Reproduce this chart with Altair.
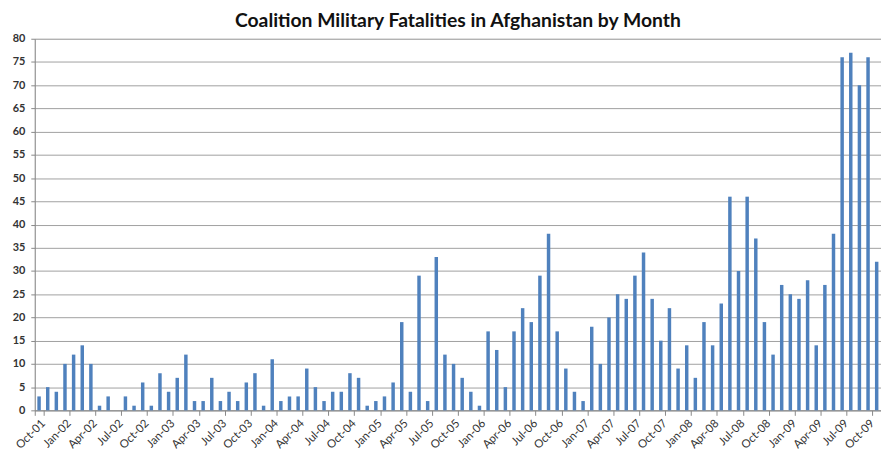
import altair as alt
import pandas as pd

months = list(pd.date_range("2001-10-01", periods=98, freq="MS").strftime("%b-%y"))

fatalities = [
    3, 5, 4, 10, 12, 14, 10, 1, 3, 0, 3, 1,        # Oct-01 .. Sep-02
    6, 1, 8, 4, 7, 12, 2, 2, 7, 2, 4, 2,           # Oct-02 .. Sep-03
    6, 8, 1, 11, 2, 3, 3, 9, 5, 2, 4, 4,           # Oct-03 .. Sep-04
    8, 7, 1, 2, 3, 6, 19, 4, 29, 2, 33, 12,        # Oct-04 .. Sep-05
    10, 7, 4, 1, 17, 13, 5, 17, 22, 19, 29, 38,    # Oct-05 .. Sep-06
    17, 9, 4, 2, 18, 10, 20, 25, 24, 29, 34, 24,   # Oct-06 .. Sep-07
    15, 22, 9, 14, 7, 19, 14, 23, 46, 30, 46, 37,  # Oct-07 .. Sep-08
    19, 12, 27, 25, 24, 28, 14, 27, 38, 76, 77, 70,  # Oct-08 .. Sep-09
    76, 32,                                        # Oct-09 .. Nov-09
]

tick_labels = months[::3]
y_ticks = list(range(0, 85, 5))

df = pd.DataFrame({"month": months, "deaths": fatalities})

chart = (
    alt.Chart(df)
    .mark_bar(color="#4F81BD", width=3.5)
    .encode(
        x=alt.X(
            "month:N",
            sort=None,
            scale=alt.Scale(paddingInner=0, paddingOuter=0),
            axis=alt.Axis(
                title=None,
                values=tick_labels,
                tickBand="extent",
                labelAngle=-45,
                labelAlign="right",
                labelBaseline="top",
                labelFont="Lato",
                labelFontSize=11.5,
                labelColor="#333333",
                labelPadding=2,
                tickColor="#888888",
                tickSize=5,
                domainColor="#888888",
                grid=False,
            ),
        ),
        y=alt.Y(
            "deaths:Q",
            scale=alt.Scale(domain=[0, 80], nice=False),
            axis=alt.Axis(
                title=None,
                values=y_ticks,
                labelFont="Lato",
                labelFontSize=11,
                labelFontWeight="bold",
                labelColor="#333333",
                labelPadding=6,
                tickColor="#888888",
                tickSize=4,
                domainColor="#888888",
                gridColor="#a0a0a0",
                gridWidth=1,
            ),
        ),
    )
    .properties(
        width=854,
        height=375,
        title=alt.TitleParams(
            "Coalition Military Fatalities in Afghanistan by Month",
            font="Lato",
            fontSize=19.5,
            fontWeight="bold",
            color="#111111",
            anchor="middle",
            offset=1,
        ),
        autosize=alt.AutoSizeParams(type="none"),
        padding={"left": 27, "top": 29, "right": 0, "bottom": 40},
    )
    .configure_view(stroke=None)
    .configure(background="white")
)

chart.save("out.html", embed_options={"renderer": "svg", "actions": False})
